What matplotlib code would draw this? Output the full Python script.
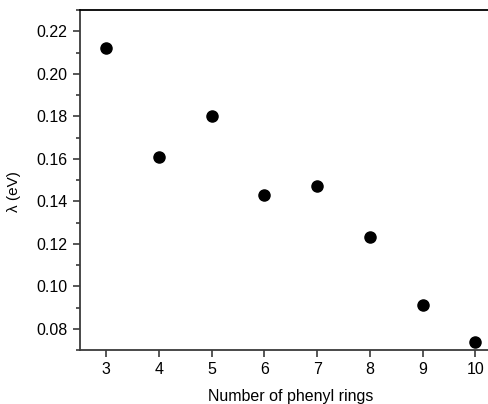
import matplotlib.pyplot as plt
from matplotlib.ticker import MultipleLocator

plt.rcParams['font.family'] = ['Liberation Sans', 'DejaVu Sans']

# Reorganization energy vs number of phenyl rings
rings = [3, 4, 5, 6, 7, 8, 9, 10]
lam = [0.212, 0.161, 0.180, 0.143, 0.147, 0.123, 0.091, 0.074]
xticks = [3, 4, 5, 6, 7, 8, 9, 10]

fig = plt.figure(figsize=(4.89, 4.04), dpi=100)
# axes runs past the right edge of the figure, as in the cropped original
ax = fig.add_axes([80 / 489, 1 - 350 / 404, 421.6 / 489, 340 / 404])

ax.plot(rings, lam, 'o', color='black', markersize=8)

ax.set_xlim(2.5, 10.5)
ax.set_ylim(0.07, 0.23)
ax.set_xticks(xticks)
ax.yaxis.set_major_locator(MultipleLocator(0.02))
ax.yaxis.set_minor_locator(MultipleLocator(0.01))
ax.yaxis.set_major_formatter(plt.FormatStrFormatter('%.2f'))

spine_col = '#3a3a3a'
for s in ax.spines.values():
    s.set_linewidth(1.3)
    s.set_color(spine_col)
ax.spines['right'].set_visible(False)
ax.spines['top'].set_color('black')

ax.tick_params(axis='both', which='major', direction='out', length=5, width=1.2,
               color=spine_col, labelsize=11.5, pad=4)
ax.tick_params(axis='both', which='minor', direction='out', length=3, width=1.2,
               color=spine_col)

ax.set_xlabel('Number of phenyl rings', fontsize=11.5, labelpad=8)
ax.set_ylabel('λ (eV)', fontsize=11)
ax.yaxis.set_label_coords(-0.14, 0.465)

fig.savefig('out.png', dpi=100)
